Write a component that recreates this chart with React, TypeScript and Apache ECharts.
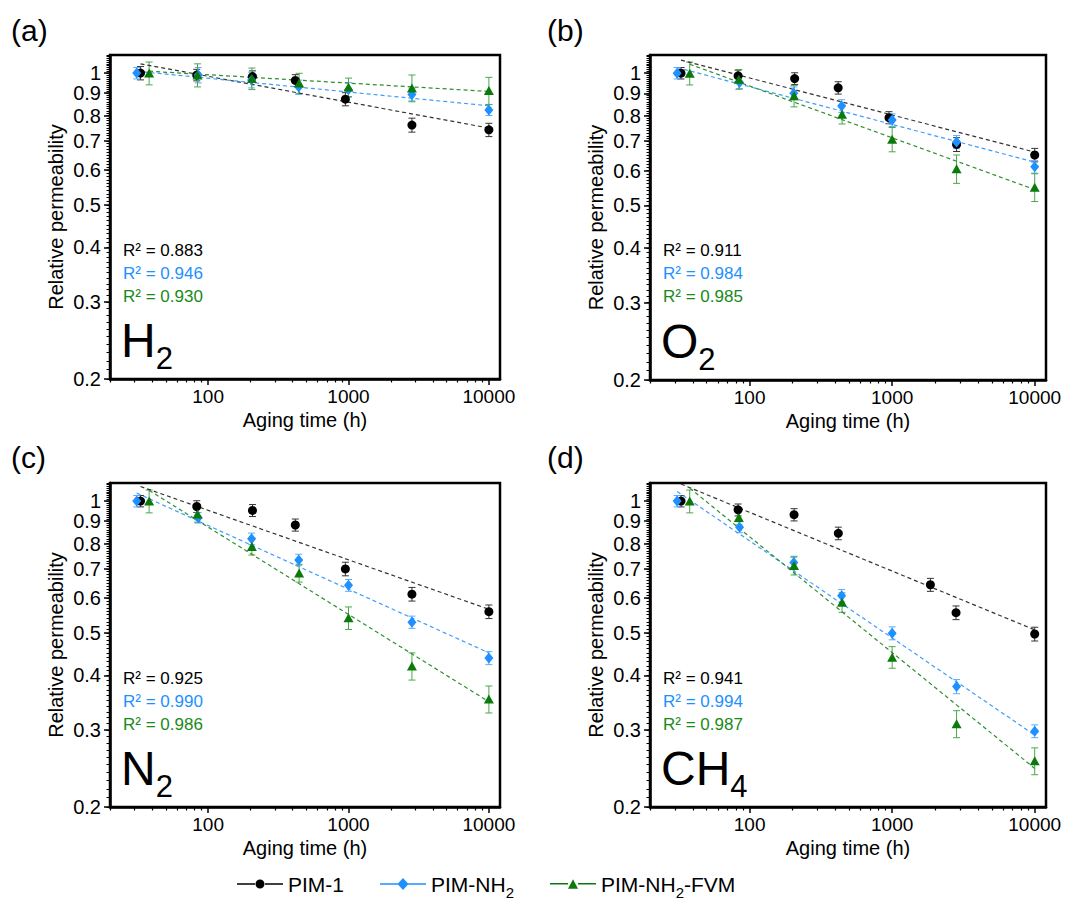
import React, { useEffect, useRef } from 'react';
import * as echarts from 'echarts';

const FONT = 'Arial, "Liberation Sans", Helvetica, sans-serif';

// ---------- text / tick data ----------
const SERIES_NAMES = ['PIM-1', 'PIM-NH2', 'PIM-NH2-FVM'];
const PANEL_TAGS = ['(a)', '(b)', '(c)', '(d)'];
const GAS_MAIN = ['H', 'O', 'N', 'CH'];
const GAS_SUB = ['2', '2', '2', '4'];
const R2_H2 = ['0.883', '0.946', '0.930'];
const R2_O2 = ['0.911', '0.984', '0.985'];
const R2_N2 = ['0.925', '0.990', '0.986'];
const R2_CH4 = ['0.941', '0.994', '0.987'];

const X_MIN = 20;
const X_MAX = 12000;
const Y_MIN = 0.2;
const Y_MAX = 1.1;
const X_MAJOR_TICKS = [100, 1000, 10000];
const X_MINOR_TICKS = [20, 30, 40, 50, 60, 70, 80, 90, 200, 300, 400, 500, 600, 700, 800, 900, 2000, 3000, 4000, 5000, 6000, 7000, 8000, 9000];
const Y_MAJOR_TICKS = [0.2, 0.3, 0.4, 0.5, 0.6, 0.7, 0.8, 0.9, 1];
const Y_MINOR_TICKS: number[] = [];
for (let k = 20; k <= 110; k++) Y_MINOR_TICKS.push(k / 100);

// ---------- aging times (h) ----------
const T_PIM1 = [33, 83, 207, 418, 950, 2830, 10000];
const T_PIM1_CH4 = [33, 83, 205, 419, 1854, 2806, 10000];
const T_NH2 = [31, 85, 204, 442, 1000, 2830, 10000];
const T_FVM = [38, 84, 205, 445, 1000, 2830, 10000];

// ---------- relative permeability ----------
const H2_PIM1 = [1.0, 0.99, 0.982, 0.962, 0.872, 0.761, 0.742];
const H2_NH2 = [1.0, 0.99, 0.965, 0.929, 0.916, 0.894, 0.824];
const H2_FVM = [1.0, 0.99, 0.972, 0.949, 0.929, 0.925, 0.913];
const O2_PIM1 = [1.0, 0.986, 0.972, 0.926, 0.792, 0.688, 0.651];
const O2_NH2 = [1.0, 0.952, 0.9, 0.842, 0.782, 0.697, 0.612];
const O2_FVM = [1.0, 0.969, 0.888, 0.806, 0.707, 0.606, 0.55];
const N2_PIM1 = [1.0, 0.972, 0.952, 0.882, 0.7, 0.613, 0.559];
const N2_NH2 = [1.0, 0.916, 0.82, 0.734, 0.642, 0.529, 0.438];
const N2_FVM = [1.0, 0.935, 0.788, 0.685, 0.541, 0.42, 0.353];
const CH4_PIM1 = [1.0, 0.955, 0.931, 0.844, 0.644, 0.556, 0.497];
const CH4_NH2 = [1.0, 0.872, 0.724, 0.608, 0.499, 0.377, 0.298];
const CH4_FVM = [1.0, 0.918, 0.713, 0.587, 0.44, 0.31, 0.255];

// ---------- error bars (+/-) ----------
const H2_PIM1_ERR = [0.035, 0.03, 0.03, 0.03, 0.03, 0.028, 0.026];
const H2_NH2_ERR = [0.03, 0.04, 0.04, 0.035, 0.035, 0.03, 0.024];
const H2_FVM_ERR = [0.06, 0.06, 0.055, 0.05, 0.045, 0.065, 0.065];
const O2_PIM1_ERR = [0.03, 0.03, 0.03, 0.03, 0.025, 0.025, 0.023];
const O2_NH2_ERR = [0.03, 0.03, 0.03, 0.028, 0.026, 0.024, 0.02];
const O2_FVM_ERR = [0.06, 0.05, 0.05, 0.04, 0.045, 0.045, 0.04];
const N2_PIM1_ERR = [0.03, 0.03, 0.03, 0.028, 0.025, 0.022, 0.02];
const N2_NH2_ERR = [0.03, 0.025, 0.025, 0.022, 0.02, 0.017, 0.015];
const N2_FVM_ERR = [0.06, 0.04, 0.035, 0.032, 0.032, 0.03, 0.025];
const CH4_PIM1_ERR = [0.03, 0.03, 0.03, 0.028, 0.022, 0.02, 0.018];
const CH4_NH2_ERR = [0.03, 0.025, 0.02, 0.02, 0.017, 0.014, 0.01];
const CH4_FVM_ERR = [0.06, 0.035, 0.035, 0.03, 0.025, 0.022, 0.018];

// ---------- power-law fit lines [x start, y start, x end, y end] ----------
const H2_FITS = [[33, 1.05, 10000, 0.749], [31, 1.01, 10000, 0.842], [38, 1.01, 10000, 0.908]];
const O2_FITS = [[33, 1.071, 10000, 0.661], [31, 1.03, 10000, 0.627], [38, 1.048, 10000, 0.543]];
const N2_FITS = [[33, 1.08, 10000, 0.566], [31, 1.043, 10000, 0.45], [38, 1.058, 10000, 0.348]];
const CH4_FITS = [[33, 1.094, 10000, 0.508], [31, 1.052, 10000, 0.292], [38, 1.071, 10000, 0.245]];

// ---------- styles ----------
const MARKER_COLORS = ['#000000', '#1E90FF', '#0b7a0b'];
const R2_COLORS = ['#000000', '#1E90FF', '#1a8a1a'];
const ERR_COLORS = ['#333333', '#5aacff', '#4aa84a'];
const FIT_COLORS = ['#333333', '#3d9dff', '#2f8f2f'];
const SYMBOLS = ['circle', 'diamond', 'triangle'];
const SYMBOL_SIZES: any[] = [9, [9, 11], [10, 9]];
const LEGEND_ICONS = [
  'path://M0,5.2H18V6.8H0Z M28,5.2H46V6.8H28Z M18.5,6A4.5,4.5 0 1,0 27.5,6A4.5,4.5 0 1,0 18.5,6Z',
  'path://M0,5.2H18V6.8H0Z M28,5.2H46V6.8H28Z M23,0L28.5,6L23,12L17.5,6Z',
  'path://M0,5.2H18V6.8H0Z M28,5.2H46V6.8H28Z M23,1.5L28,11L18,11Z',
];

const GRIDS = [
  { left: 110, top: 55, width: 390, height: 324 },
  { left: 650, top: 55, width: 396, height: 325 },
  { left: 110, top: 483, width: 390, height: 324 },
  { left: 650, top: 483, width: 396, height: 324 },
];
const TAG_POS = [[11, 30], [547, 30], [11, 457], [547, 457]];

const PANELS = [
  { times: [T_PIM1, T_NH2, T_FVM], vals: [H2_PIM1, H2_NH2, H2_FVM], errs: [H2_PIM1_ERR, H2_NH2_ERR, H2_FVM_ERR], fits: H2_FITS, r2: R2_H2 },
  { times: [T_PIM1, T_NH2, T_FVM], vals: [O2_PIM1, O2_NH2, O2_FVM], errs: [O2_PIM1_ERR, O2_NH2_ERR, O2_FVM_ERR], fits: O2_FITS, r2: R2_O2 },
  { times: [T_PIM1, T_NH2, T_FVM], vals: [N2_PIM1, N2_NH2, N2_FVM], errs: [N2_PIM1_ERR, N2_NH2_ERR, N2_FVM_ERR], fits: N2_FITS, r2: R2_N2 },
  { times: [T_PIM1_CH4, T_NH2, T_FVM], vals: [CH4_PIM1, CH4_NH2, CH4_FVM], errs: [CH4_PIM1_ERR, CH4_NH2_ERR, CH4_FVM_ERR], fits: CH4_FITS, r2: R2_CH4 },
];

const fmt = (v: number) => String(+Number(v).toPrecision(6));

function buildOption() {
  const grid: any[] = [];
  const xAxis: any[] = [];
  const yAxis: any[] = [];
  const series: any[] = [];
  const graphic: any[] = [];

  GRIDS.forEach((g) => {
    grid.push({ ...g, show: true, borderColor: '#000', borderWidth: 2.5, backgroundColor: 'transparent', containLabel: false });
  });
  // major axes
  GRIDS.forEach((g, i) => {
    xAxis.push({
      type: 'log', logBase: 10, gridIndex: i, min: X_MIN, max: X_MAX,
      name: 'Aging time (h)', nameLocation: 'middle', nameGap: 31,
      nameTextStyle: { fontSize: 20, color: '#000', fontFamily: FONT },
      axisLine: { show: true, onZero: false, lineStyle: { color: '#000', width: 2.5 } },
      axisTick: { show: true, inside: false, length: 6, customValues: X_MAJOR_TICKS, lineStyle: { color: '#000', width: 1.5 } },
      axisLabel: { show: true, customValues: X_MAJOR_TICKS, formatter: fmt, fontSize: 19, color: '#000', fontFamily: FONT, margin: 8 },
      splitLine: { show: false }, minorTick: { show: false }, minorSplitLine: { show: false },
    });
    yAxis.push({
      type: 'log', logBase: 10, gridIndex: i, min: Y_MIN, max: Y_MAX, position: 'left',
      name: 'Relative permeability', nameLocation: 'middle', nameGap: 44, nameRotate: 90,
      nameTextStyle: { fontSize: 20, color: '#000', fontFamily: FONT },
      axisLine: { show: true, onZero: false, lineStyle: { color: '#000', width: 2.5 } },
      axisTick: { show: true, inside: false, length: 6, customValues: Y_MAJOR_TICKS, lineStyle: { color: '#000', width: 1.5 } },
      axisLabel: { show: true, customValues: Y_MAJOR_TICKS, formatter: fmt, fontSize: 20, color: '#000', fontFamily: FONT, margin: 9 },
      splitLine: { show: false }, minorTick: { show: false }, minorSplitLine: { show: false },
    });
  });
  // minor tick axes
  GRIDS.forEach((g, i) => {
    xAxis.push({
      type: 'log', logBase: 10, gridIndex: i, min: X_MIN, max: X_MAX, position: 'bottom',
      axisLine: { show: false, onZero: false },
      axisTick: { show: true, inside: false, length: 3.5, customValues: X_MINOR_TICKS, lineStyle: { color: '#000', width: 1.2 } },
      axisLabel: { show: false }, splitLine: { show: false },
    });
    yAxis.push({
      type: 'log', logBase: 10, gridIndex: i, min: Y_MIN, max: Y_MAX, position: 'left',
      axisLine: { show: false, onZero: false },
      axisTick: { show: true, inside: false, length: 3.5, customValues: Y_MINOR_TICKS, lineStyle: { color: '#000', width: 1 } },
      axisLabel: { show: false }, splitLine: { show: false },
    });
  });

  PANELS.forEach((p, i) => {
    for (let j = 0; j < 3; j++) {
      const times = p.times[j];
      const vals = p.vals[j];
      const errs = p.errs[j];
      const errColor = ERR_COLORS[j];
      series.push({
        type: 'custom', name: `err-${i}-${j}`, xAxisIndex: i, yAxisIndex: i, z: 2, silent: true, clip: false,
        data: times.map((t, k) => [t, vals[k], errs[k]]),
        encode: { x: 0, y: 1 },
        renderItem: (params: any, api: any) => {
          const x = api.value(0);
          const y = api.value(1);
          const e = api.value(2);
          const top = api.coord([x, y + e]);
          const bot = api.coord([x, y - e]);
          const cap = 3.5;
          const st = { stroke: errColor, lineWidth: 1 };
          return {
            type: 'group',
            children: [
              { type: 'line', shape: { x1: top[0], y1: top[1], x2: bot[0], y2: bot[1] }, style: st },
              { type: 'line', shape: { x1: top[0] - cap, y1: top[1], x2: top[0] + cap, y2: top[1] }, style: st },
              { type: 'line', shape: { x1: bot[0] - cap, y1: bot[1], x2: bot[0] + cap, y2: bot[1] }, style: st },
            ],
          };
        },
      });
      const f = p.fits[j];
      series.push({
        type: 'line', name: `fit-${i}-${j}`, xAxisIndex: i, yAxisIndex: i, z: 3, silent: true,
        symbol: 'none', showSymbol: false,
        data: [[f[0], f[1]], [f[2], f[3]]],
        lineStyle: { color: FIT_COLORS[j], width: 1.2, type: [4, 3] },
      });
      series.push({
        type: 'scatter', name: SERIES_NAMES[j], xAxisIndex: i, yAxisIndex: i, z: 4 + j,
        symbol: SYMBOLS[j], symbolSize: SYMBOL_SIZES[j],
        itemStyle: { color: MARKER_COLORS[j], opacity: 1 },
        data: times.map((t, k) => [t, vals[k]]),
      });
    }

    const g = GRIDS[i];
    graphic.push({
      type: 'text', x: TAG_POS[i][0], y: TAG_POS[i][1],
      style: { text: PANEL_TAGS[i], fontSize: 30, fontFamily: FONT, fill: '#000', align: 'left', verticalAlign: 'middle' },
    });
    p.r2.forEach((r, j) => {
      graphic.push({
        type: 'text', x: g.left + 13, y: g.top + 195 + 23 * j,
        style: { text: `R² = ${r}`, fontSize: 17, fontFamily: FONT, fill: R2_COLORS[j], align: 'left', verticalAlign: 'middle' },
      });
    });
    graphic.push({
      type: 'text', x: g.left + 11, y: g.top + g.height - 67,
      style: {
        text: `{m|${GAS_MAIN[i]}}{s|${GAS_SUB[i]}}`, align: 'left', verticalAlign: 'top',
        rich: {
          m: { fontSize: 48, fontFamily: FONT, fill: '#000', lineHeight: 56 },
          s: { fontSize: 31, fontFamily: FONT, fill: '#000', lineHeight: 56, height: 20, verticalAlign: 'bottom' },
        },
      },
    });
  });

  return {
    animation: false,
    backgroundColor: '#ffffff',
    grid, xAxis, yAxis, series, graphic,
    legend: {
      left: 232, top: 866, orient: 'horizontal',
      itemWidth: 46, itemHeight: 12, itemGap: 36,
      data: SERIES_NAMES.map((n, j) => ({ name: n, icon: LEGEND_ICONS[j] })),
      formatter: (name: string) => name.replace('NH2', 'NH{s|2}'),
      textStyle: {
        fontSize: 21, color: '#000', fontFamily: FONT, lineHeight: 26,
        rich: { s: { fontSize: 15, fontFamily: FONT, color: '#000', lineHeight: 26, height: 10, verticalAlign: 'bottom' } },
      },
      selectedMode: false,
    },
  };
}

export default function App() {
  const ref = useRef<HTMLDivElement>(null);
  useEffect(() => {
    if (!ref.current) return;
    const chart = echarts.init(ref.current, undefined, { renderer: 'svg' });
    chart.setOption(buildOption() as any);
    return () => chart.dispose();
  }, []);
  return <div ref={ref} style={{ position: 'absolute', left: 0, top: 0, width: 1072, height: 909 }} />;
}
